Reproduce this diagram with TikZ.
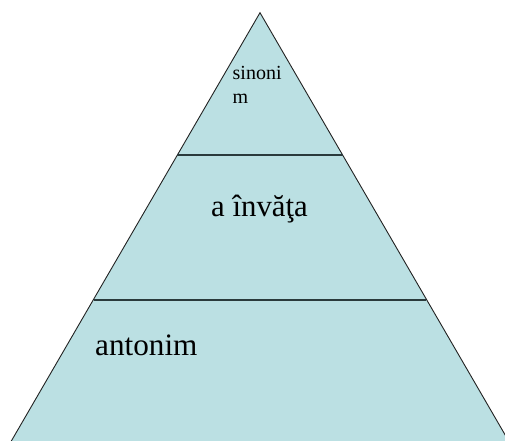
\documentclass[tikz,border=0pt]{standalone}
\usepackage{fontspec}
\setmainfont{Liberation Serif}
\definecolor{tierfill}{HTML}{BBE0E3}
\definecolor{edgecol}{HTML}{222222}
\definecolor{divcol}{HTML}{2A3A3C}
\begin{document}
\begin{tikzpicture}[x=1pt,y=-1pt,
  outline/.style={draw=edgecol,line width=0.9pt,fill=tierfill},
  divider/.style={draw=divcol,line width=2pt},
  lbl/.style={anchor=base west,inner sep=0pt,text=black}]
\useasboundingbox (0,0) rectangle (505,440);
\clip (0,0) rectangle (505,440);
\coordinate (apex) at (260,12.7);
\coordinate (bl) at (9,445);
\coordinate (br) at (511,445);
\path[outline] (apex) -- (bl) -- (br) -- cycle;
\coordinate (d1l) at (177.3,155);
\coordinate (d1r) at (342.7,155);
\coordinate (d2l) at (94.3,300);
\coordinate (d2r) at (425.9,300);
\draw[divider] (d1l) -- (d1r);
\draw[divider] (d2l) -- (d2r);
\node[lbl,font=\fontsize{20}{24}\selectfont] (s1) at (232.5,79.3) {sinoni};
\node[lbl,font=\fontsize{20}{24}\selectfont] (s2) at (232.5,103.3) {m};
\node[lbl,font=\fontsize{30.8}{36}\selectfont] (mid) at (211,216.7) {a învăţa};
\node[lbl,font=\fontsize{31.2}{36}\selectfont] (ant) at (95,355) {antonim};
\end{tikzpicture}
\end{document}
